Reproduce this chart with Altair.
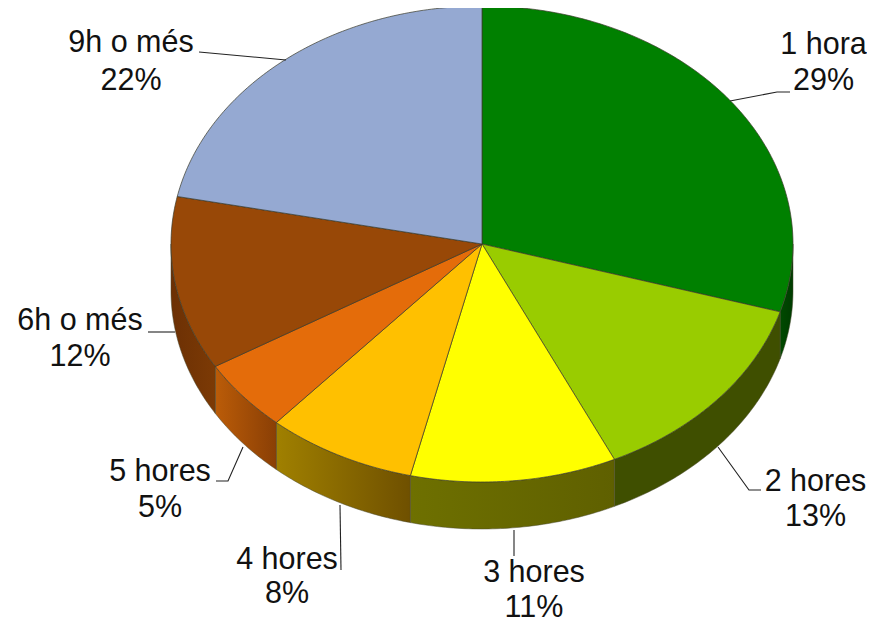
import math
import altair as alt
import pandas as pd

# Data
categories = ["1 hora", "2 hores", "3 hores", "4 hores", "5 hores", "6h o més", "9h o més"]
percent_labels = ["29%", "13%", "11%", "8%", "5%", "12%", "22%"]
drawn_shares = [29.6, 13.4, 10.7, 7.8, 4.9, 11.8, 21.8]  # shares as drawn in the slices
top_colors = ["#008000", "#99cc00", "#ffff00", "#ffc000", "#e46c0a", "#984807", "#95a9d2"]
wall_left = {"1 hora": "#004a00", "2 hores": "#3f4f00", "3 hores": "#6e7000",
             "4 hores": "#a08000", "5 hores": "#bb5c08", "6h o més": "#6c3004"}
wall_right = {"1 hora": "#003c00", "2 hores": "#3f4f00", "3 hores": "#5f6000",
              "4 hores": "#6f5000", "5 hores": "#8a3f05", "6h o més": "#7c3a05"}

# Layout of the pie, in page pixels
CX, CY, RX, RY, DEPTH = 482, 244, 311, 238, 47
label_pos = {"1 hora": (823.5, 45, 81), "2 hores": (815.5, 482, 517), "3 hores": (534, 573, 608),
             "4 hores": (287, 560, 594), "5 hores": (160, 472, 508), "6h o més": (80, 321, 357),
             "9h o més": (131, 43, 81)}
leaders = {"1 hora": [(730, 101), (777, 92), (790, 92)],
           "2 hores": [(718, 447), (749, 490), (761, 490)],
           "3 hores": [(514, 530), (514, 556)],
           "4 hores": [(340, 505), (341, 570)],
           "5 hores": [(243, 447), (228, 481), (216, 481)],
           "6h o més": [(175, 332), (148, 332)],
           "9h o més": [(199, 52), (286, 60)]}

PROJ = dict(type="identity", scale=1, translate=[-8, -8])


def pt(t, dy=0):
    return [CX + RX * math.sin(t), CY - RY * math.cos(t) + dy]


def arc(t0, t1, dy=0):
    n = max(2, int(abs(t1 - t0) * 80))
    return [pt(t0 + (t1 - t0) * i / n, dy) for i in range(n + 1)]


def piece(ring, fill, stroke="#3a3a2a", width=0.7):
    ring = ring + [ring[0]]
    coll = {"type": "FeatureCollection", "features": [
        {"type": "Feature", "properties": {}, "geometry": {"type": "Polygon", "coordinates": [ring]}}]}
    return alt.Chart(alt.InlineData(values=coll, format=alt.DataFormat(type="json", property="features"))
                     ).mark_geoshape(fill=fill, stroke=stroke, strokeWidth=width).project(**PROJ)


bounds = [0.0]
for s in drawn_shares:
    bounds.append(bounds[-1] + s)
scale = 2 * math.pi / bounds[-1]

layers = []
for i, name in enumerate(categories):
    t0, t1 = bounds[i] * scale, bounds[i + 1] * scale
    a, b = max(t0, math.pi / 2), min(t1, 3 * math.pi / 2)
    if a < b:
        fill = alt.Gradient(gradient="linear", x1=0, x2=1, y1=0, y2=0,
                            stops=[alt.GradientStop(offset=0, color=wall_left[name]),
                                   alt.GradientStop(offset=1, color=wall_right[name])])
        layers.append(piece(arc(a, b) + arc(b, a, DEPTH), fill, stroke="#4a4a30", width=0.5))

for i, name in enumerate(categories):
    t0, t1 = bounds[i] * scale, bounds[i + 1] * scale
    layers.append(piece([[CX, CY]] + arc(t0, t1), top_colors[i]))

rows = []
for name in categories:
    for k, (x, y) in enumerate(leaders[name]):
        rows.append({"name": name, "k": k, "x": x, "y": y})
layers.append(alt.Chart(pd.DataFrame(rows)).mark_line(color="#222222", strokeWidth=1.1).encode(
    longitude="x:Q", latitude="y:Q", detail="name:N", order="k:Q").project(**PROJ))

texts = []
for name, pct in zip(categories, percent_labels):
    x, y1, y2 = label_pos[name]
    texts.append({"t": name, "x": x, "y": y1})
    texts.append({"t": pct, "x": x, "y": y2})
layers.append(alt.Chart(pd.DataFrame(texts)).mark_text(
    font="Liberation Sans", fontSize=30.5, color="#111111", align="center", baseline="middle").encode(
    longitude="x:Q", latitude="y:Q", text="t:N").project(**PROJ))

chart = alt.layer(*layers).properties(
    width=859, height=615, padding=0, autosize=alt.AutoSizeParams(type="none"),
    background="white").configure_view(stroke=None)
chart.save("out.html", embed_options={"renderer": "svg", "actions": False})
